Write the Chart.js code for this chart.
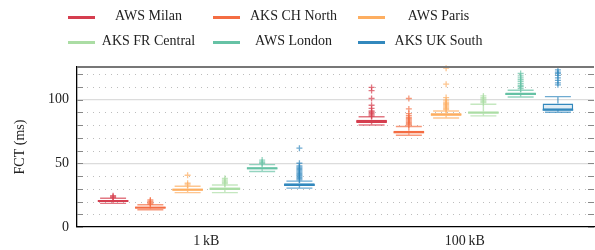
<!DOCTYPE html>
<html>
<head>
<meta charset="utf-8">
<script src="https://cdn.jsdelivr.net/npm/chart.js@4"></script>
<style>
  body { margin: 0; background: #fff; }
  #wrap { position: relative; width: 595px; height: 250px; }
  #legend { position: absolute; left: 0; top: 0; width: 595px; height: 56px;
            font-family: "Liberation Serif", "DejaVu Serif", serif; font-size: 14px; color: #222; }
  .item { position: absolute; height: 20px; width: 145px; }
  .sw { position: absolute; left: 0; top: 9px; width: 27px; height: 3px; }
  .lbl { position: absolute; left: 28px; width: 105px; top: 1px; text-align: center; white-space: nowrap; }
</style>
</head>
<body>
<div id="wrap">
  <canvas id="chart" width="595" height="250"></canvas>
  <div id="legend"></div>
</div>
<script>
// categories (message size)
const sizes = ['1\u2009kB', '100\u2009kB'];
const series = ['AWS Milan', 'AKS CH North', 'AWS Paris', 'AKS FR Central', 'AWS London', 'AKS UK South'];
const colors = ['#d53e4f', '#f46d43', '#fdae61', '#abdda4', '#66c2a5', '#3288bd'];

// box statistics per series: [1 kB, 100 kB]
const whiskerLow  = [[18.5, 80.0], [13.5, 72.0], [27.0, 85.5], [27.0, 87.2], [43.5, 102.0], [30.5, 90.0]];
const q1          = [[19.8, 81.6], [14.6, 73.6], [28.5, 87.3], [29.0, 89.0], [45.3, 103.5], [32.2, 91.9]];
const median      = [[20.4, 82.8], [15.2, 74.3], [29.3, 88.2], [30.0, 89.7], [46.0, 104.3], [33.0, 91.9]];
const q3          = [[21.2, 84.2], [15.9, 75.5], [30.0, 89.3], [31.0, 90.5], [46.8, 105.5], [34.3, 96.8]];
const whiskerHigh = [[22.5, 86.5], [17.5, 78.8], [32.0, 91.0], [33.0, 96.3], [48.9, 107.3], [36.0, 102.3]];

const outliers = [
  [[23.0, 23.8, 24.6], [87, 88, 89, 90, 91, 93, 95.5, 100.8, 107, 109.5]],
  [[18.0, 18.8, 19.5, 20.3, 21.2], [80, 81, 82, 83, 84, 85, 86, 87.4, 89, 92.6, 100.8]],
  [[33.0, 34.3, 40.6], [92, 93, 94, 95, 96, 97, 98, 99.5, 101.5, 112, 124.6]],
  [[34, 35, 36, 37, 38.2], [97.5, 98.5, 99.5, 100.5, 101.5, 102.8]],
  [[50, 51, 52.5], [108.5, 110, 111, 112.5, 114, 115.5, 117, 118.5, 120.4]],
  [[37, 38, 39, 40, 41, 42, 43, 44, 45, 46, 47, 48, 50, 61.8], [111.5, 113, 115, 117, 119, 120.5, 121.5, 123.2]]
];

const yTicks = [0, 50, 100];

function alpha(hex, a) {
  const n = parseInt(hex.slice(1), 16);
  return `rgba(${n >> 16}, ${(n >> 8) & 255}, ${n & 255}, ${a})`;
}

// legend
const legend = document.getElementById('legend');
series.forEach((name, i) => {
  const col = i % 3, row = Math.floor(i / 3);
  const el = document.createElement('div');
  el.className = 'item';
  el.style.left = (68 + col * 145) + 'px';
  el.style.top = (7 + row * 25) + 'px';
  el.innerHTML = `<div class="sw" style="background:${colors[i]}"></div><div class="lbl">${name}</div>`;
  legend.appendChild(el);
});

// whiskers, medians, outliers, minor grid and frame
const boxPlugin = {
  id: 'boxExtras',
  beforeDatasetsDraw(chart) {
    const { ctx, chartArea: a, scales: { y } } = chart;
    ctx.save();
    // dotted minor grid
    ctx.strokeStyle = '#bdbdbd';
    ctx.lineWidth = 1;
    ctx.setLineDash([1, 5]);
    for (let v = 10; v <= y.max; v += 10) {
      if (v % 50 === 0) continue;
      const py = Math.round(y.getPixelForValue(v)) + 0.5;
      ctx.beginPath(); ctx.moveTo(a.left + 10, py); ctx.lineTo(a.right - 6, py); ctx.stroke();
    }
    ctx.setLineDash([]);
    // inner ticks left & right
    ctx.strokeStyle = '#888';
    for (let v = 0; v <= y.max; v += 10) {
      const py = Math.round(y.getPixelForValue(v)) + 0.5;
      ctx.beginPath(); ctx.moveTo(a.left, py); ctx.lineTo(a.left + 6, py); ctx.stroke();
      ctx.beginPath(); ctx.moveTo(a.right - 6, py); ctx.lineTo(a.right, py); ctx.stroke();
    }
    ctx.restore();
  },
  afterDatasetsDraw(chart) {
    const { ctx, chartArea: a, scales: { y } } = chart;
    ctx.save();
    chart.data.datasets.forEach((ds, si) => {
      const meta = chart.getDatasetMeta(si);
      meta.data.forEach((bar, gi) => {
        const x = bar.x, w = bar.width, cap = w * 0.85;
        const c = colors[si];
        const yl = y.getPixelForValue(whiskerLow[si][gi]);
        const yq1 = y.getPixelForValue(q1[si][gi]);
        const yq3 = y.getPixelForValue(q3[si][gi]);
        const yh = y.getPixelForValue(whiskerHigh[si][gi]);
        const ym = y.getPixelForValue(median[si][gi]);
        ctx.strokeStyle = alpha(c, 0.7);
        ctx.lineWidth = 1.4;
        ctx.beginPath();
        ctx.moveTo(x, yq3); ctx.lineTo(x, yh);
        ctx.moveTo(x, yq1); ctx.lineTo(x, yl);
        ctx.moveTo(x - cap / 2, yh); ctx.lineTo(x + cap / 2, yh);
        ctx.moveTo(x - cap / 2, yl); ctx.lineTo(x + cap / 2, yl);
        ctx.stroke();
        // median
        ctx.strokeStyle = c;
        ctx.lineWidth = 2;
        ctx.beginPath(); ctx.moveTo(x - w / 2, ym); ctx.lineTo(x + w / 2, ym); ctx.stroke();
        // outliers as '+'
        ctx.strokeStyle = alpha(c, 0.7);
        ctx.lineWidth = 1.3;
        outliers[si][gi].forEach(v => {
          const py = y.getPixelForValue(v);
          ctx.beginPath();
          ctx.moveTo(x - 3, py); ctx.lineTo(x + 3, py);
          ctx.moveTo(x, py - 3); ctx.lineTo(x, py + 3);
          ctx.stroke();
        });
      });
    });
    // top frame line
    ctx.strokeStyle = '#777';
    ctx.lineWidth = 2;
    ctx.beginPath(); ctx.moveTo(a.left, a.top); ctx.lineTo(a.right, a.top); ctx.stroke();
    ctx.restore();
  }
};

const serif = '"Liberation Serif", "DejaVu Serif", serif';

new Chart(document.getElementById('chart'), {
  type: 'bar',
  data: {
    labels: sizes,
    datasets: series.map((name, i) => ({
      label: name,
      data: sizes.map((s, g) => [q1[i][g], q3[i][g]]),
      backgroundColor: alpha(colors[i], 0.15),
      borderColor: colors[i],
      borderWidth: 1.3,
      borderSkipped: false,
      barPercentage: 0.82,
      categoryPercentage: 0.865
    }))
  },
  options: {
    responsive: false,
    animation: false,
    layout: { padding: { top: 67, left: 8, right: 1, bottom: 0 } },
    plugins: { legend: { display: false }, tooltip: { enabled: false } },
    scales: {
      x: {
        grid: { display: false, drawTicks: false },
        border: { color: '#000', width: 1.3 },
        ticks: { color: '#222', padding: 6, font: { family: serif, size: 14 } },
        afterFit(scale) { scale.height = 23; }
      },
      y: {
        min: 0,
        max: 125.5,
        afterBuildTicks(scale) { scale.ticks = yTicks.map(v => ({ value: v })); },
        grid: {
          drawTicks: false,
          color: ctx => (ctx.tick && ctx.tick.value > 0 ? '#dcdcdc' : 'rgba(0,0,0,0)'),
          lineWidth: 1.2
        },
        border: { color: '#000', width: 1.3 },
        ticks: { color: '#222', padding: 8, font: { family: serif, size: 14 } },
        title: { display: true, text: 'FCT (ms)', color: '#222', font: { family: serif, size: 14 }, padding: 4 },
        afterFit(scale) { scale.width = 69; }
      }
    }
  },
  plugins: [boxPlugin]
});
</script>
</body>
</html>
